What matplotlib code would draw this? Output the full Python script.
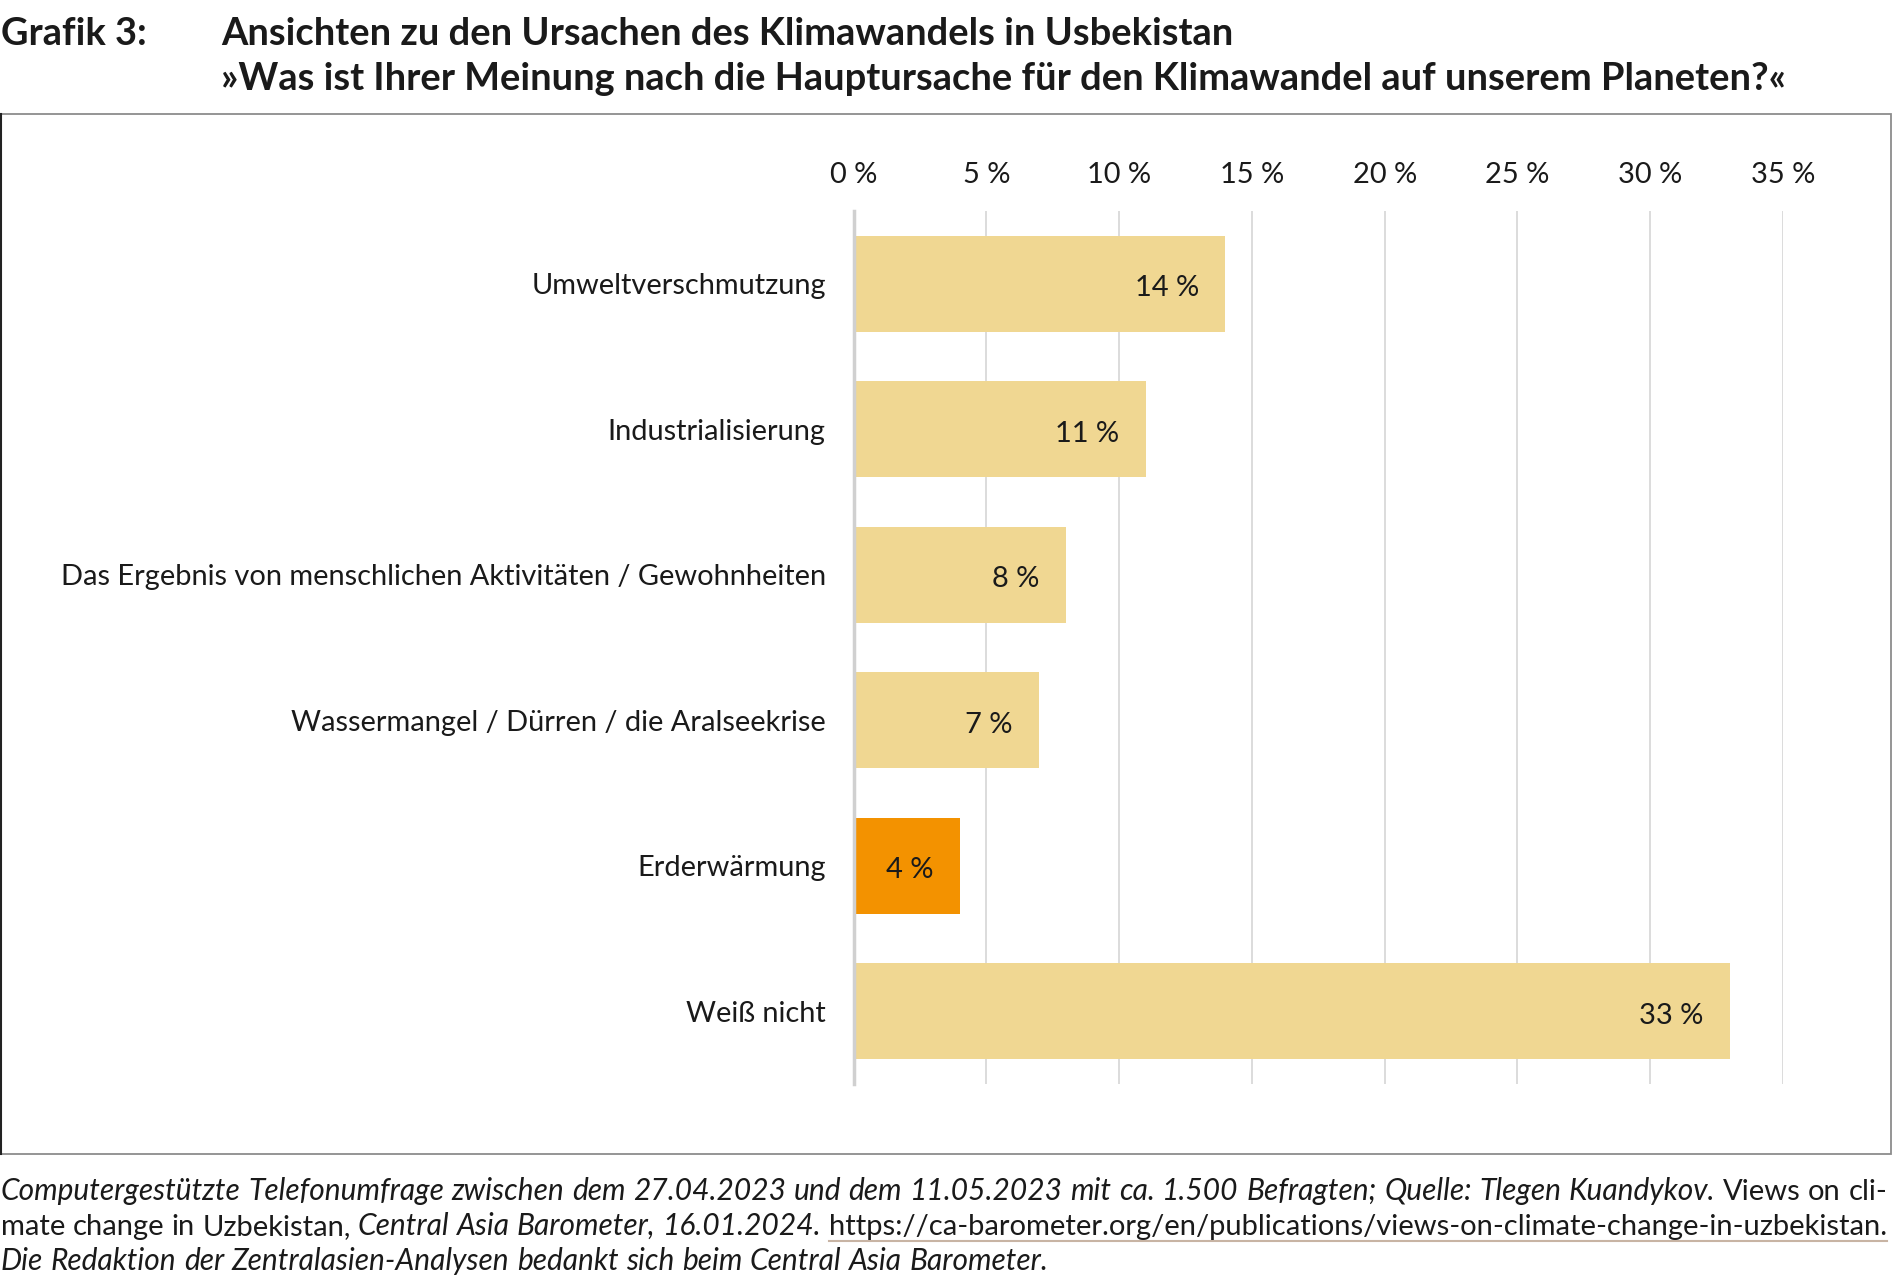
import matplotlib
matplotlib.use("Agg")
import matplotlib.pyplot as plt
from matplotlib.patches import Rectangle
from matplotlib.lines import Line2D

plt.rcParams['font.family'] = ['Lato', 'DejaVu Sans']

categories = ["Umweltverschmutzung", "Industrialisierung",
              "Das Ergebnis von menschlichen Aktivitäten / Gewohnheiten",
              "Wassermangel / Dürren / die Aralseekrise", "Erderwärmung", "Weiß nicht"]
values = [14, 11, 8, 7, 4, 33]
highlight = [False, False, False, False, True, False]
xticks = [0, 5, 10, 15, 20, 25, 30, 35]
xtick_labels = ["0 %", "5 %", "10 %", "15 %", "20 %", "25 %", "30 %", "35 %"]

title_prefix = "Grafik 3:"
title_line1 = "Ansichten zu den Ursachen des Klimawandels in Usbekistan"
title_line2 = "»Was ist Ihrer Meinung nach die Hauptursache für den Klimawandel auf unserem Planeten?«"

W, H = 1893, 1282
fig = plt.figure(figsize=(W / 100, H / 100), dpi=100)

def fx(px):
    return px / W

def fy(py):
    return 1 - py / H

BAR = "#F0D792"
HIGH = "#F39200"
TXT = "#1a1a1a"
LFS = 20.9

ax = fig.add_axes([fx(853.6), fy(1084), fx(1783 - 853.6), (1084 - 211) / H])
colors = [HIGH if h else BAR for h in highlight]
ypos = list(range(len(categories)))
ax.barh(ypos, values, height=0.66, color=colors, zorder=3)
ax.set_xlim(0, 35)
ax.set_ylim(len(categories) - 0.5, -0.5)
ax.set_xticks(xticks)
ax.set_xticklabels(xtick_labels, fontsize=LFS, color=TXT)
ax.xaxis.tick_top()
ax.tick_params(axis='x', length=0, pad=16.5)
ax.set_yticks(ypos)
ax.set_yticklabels(categories, fontsize=LFS, color=TXT)
ax.tick_params(axis='y', length=0, pad=20)
ax.grid(axis='x', color="#d9d9d9", linewidth=1.3, zorder=0)
for s in ["top", "right", "bottom"]:
    ax.spines[s].set_visible(False)
ax.spines["left"].set_color("#d0d0d0")
ax.spines["left"].set_linewidth(2.5)
ax.spines["left"].set_zorder(4)

for y, v in zip(ypos, values):
    ax.text(v - 1.0, y + 0.03, f"{v} %", ha="right", va="center", fontsize=LFS,
            color=TXT, zorder=5)

# title
TFS = 27.4
fig.text(fx(1), fy(34), title_prefix, fontsize=TFS, fontweight="bold", va="center", ha="left", color=TXT)
fig.text(fx(221), fy(34), title_line1, fontsize=TFS, fontweight="bold", va="center", ha="left", color=TXT)
fig.text(fx(221), fy(79), title_line2, fontsize=TFS, fontweight="bold", va="center", ha="left", color=TXT)

# frame
fig.add_artist(Rectangle((fx(1), fy(1154)), fx(1890), (1154 - 114) / H,
                         transform=fig.transFigure, fill=False,
                         edgecolor="#8c8c8c", linewidth=1.3))
fig.add_artist(Line2D([fx(1), fx(1)], [fy(114), fy(1154)], transform=fig.transFigure,
                      color="#222222", linewidth=1.5))

# footnote with mixed styles, justified
renderer = fig.canvas.get_renderer()
FS = {"normal": 21.0, "italic": 21.5}

def measure(txt, style):
    t = fig.text(0, 0, txt, fontsize=FS[style], style=style)
    w = t.get_window_extent(renderer).width
    t.remove()
    return w

def line(pieces, x0, ypix, target=None):
    tokens = []
    for txt, style, under in pieces:
        for w in txt.split(" "):
            if w:
                tokens.append((w, style, under))
    widths = [measure(w, s) for w, s, _ in tokens]
    space = measure("a a", "normal") - measure("aa", "normal")
    n = len(tokens) - 1
    if target is not None and n > 0:
        gap = (target - sum(widths)) / n
    else:
        gap = space
    x = x0
    for (w, s, u), wd in zip(tokens, widths):
        fig.text(fx(x), fy(ypix), w, fontsize=FS[s], style=s, va="baseline", ha="left", color=TXT)
        if u:
            fig.add_artist(Line2D([fx(x), fx(x + wd)], [fy(ypix + 6), fy(ypix + 6)],
                                  transform=fig.transFigure, color="#c8b4a4", linewidth=1.5))
        x += wd + gap

fn1 = [("Computergestützte Telefonumfrage zwischen dem 27.04.2023 und dem 11.05.2023 mit ca. 1.500 Befragten; Quelle: Tlegen Kuandykov.", "italic", False),
       ("Views on cli-", "normal", False)]
fn2 = [("mate change in Uzbekistan,", "normal", False),
       ("Central Asia Barometer, 16.01.2024.", "italic", False),
       ("https://ca-barometer.org/en/publications/views-on-climate-change-in-uzbekistan.", "normal", True)]
fn3 = [("Die Redaktion der Zentralasien-Analysen bedankt sich beim Central Asia Barometer.", "italic", False)]

line(fn1, 1, 1200, target=1886)
line(fn2, 1, 1235, target=1886)
line(fn3, 1, 1270)

fig.savefig("out.png", dpi=100, facecolor="white")
